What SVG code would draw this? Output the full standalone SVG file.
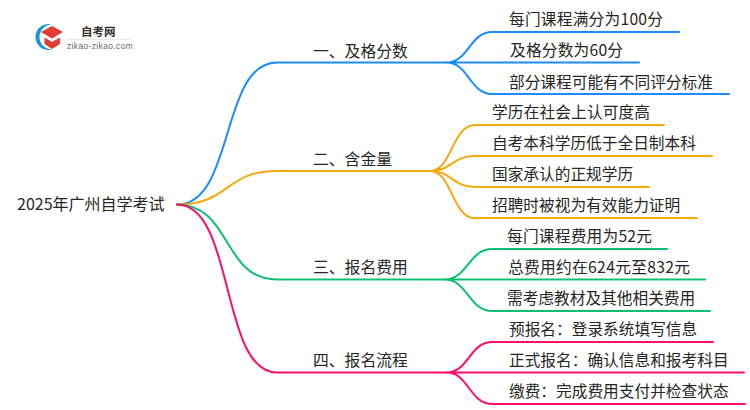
<svg xmlns="http://www.w3.org/2000/svg" width="750" height="410" viewBox="0 0 750 410">
<style>
text{font-family:"Noto Sans CJK SC","Noto Sans",sans-serif;font-size:15.700px;fill:#262626}
.m{font-size:15.800px}
.r{font-size:16px}
.c{fill:none;stroke-width:2;stroke-linecap:round}
.b{stroke:#1a8cff}.o{stroke:#f5a90f}.g{stroke:#0dbf73}.p{stroke:#fa0f6e}
</style>
<rect width="750" height="410" fill="#fff"/>
<g id="logo">
<path d="M52 24.500A13 13 0 1 0 52 49.500A12.500 12.500 0 1 1 52 24.500Z" fill="#1597d8"/>
<path d="M41 32L52 26L63 32L52 38.500Z" fill="#e33b36"/>
<path d="M44.500 37.500L52 42L60 37.500V44L52 49L44.500 44Z" fill="#e33b36"/>
<text x="81" y="35.500" style="font-size:11.500px;font-weight:700;fill:#333">自考网</text>
<rect x="66" y="39" width="65" height="1" fill="#e8e8e8"/>
<text x="67" y="48.500" style="font-family:'Liberation Sans',sans-serif;font-size:8.500px;letter-spacing:.35px;fill:#666">zikao-zikao.com</text>
</g>
<g id="connectors">
<path class="c b" d="M177 204.500C235 204.500 220 62.500 277 62.500H447"/>
<path class="c o" d="M177 204.500C230 204.500 225 171 277 171H430"/>
<path class="c g" d="M177 204.500C232 204.500 222 279.500 277 279.500H445"/>
<path class="c p" d="M177 204.500C235 204.500 220 372.500 277 372.500H447"/>
<path class="c b" d="M447 62.500C468 62.500 470 32 492 32H679M447 62.500H639M447 62.500C468 62.500 470 94 492 94H729"/>
<path class="c o" d="M430 171C452 171 452 125 475 125H664M430 171C452 171 452 156 475 156H712M430 171C452 171 452 187 475 187H649M430 171C452 171 452 218 475 218H697"/>
<path class="c g" d="M445 279.500C467 279.500 469 249 492 249H667M445 279.500H705M445 279.500C467 279.500 469 311 492 311H710"/>
<path class="c p" d="M447 372.500C468 372.500 470 342 492 342H713M447 372.500H744M447 372.500C468 372.500 470 404 492 404H745"/>
</g>
<g id="root"><text class="r" x="17" y="210">2025年广州自学考试</text></g>
<g id="n1"><text class="m" x="313" y="56.500">一、及格分数</text></g>
<g id="n1a"><text x="509" y="25" textLength="154">每门课程满分为100分</text></g>
<g id="n1b"><text x="510" y="56" textLength="113">及格分数为60分</text></g>
<g id="n1c"><text x="509" y="87.500">部分课程可能有不同评分标准</text></g>
<g id="n2"><text class="m" x="313" y="164.500">二、含金量</text></g>
<g id="n2a"><text x="492" y="118" textLength="158">学历在社会上认可度高</text></g>
<g id="n2b"><text x="492" y="149">自考本科学历低于全日制本科</text></g>
<g id="n2c"><text x="492" y="180">国家承认的正规学历</text></g>
<g id="n2d"><text x="492" y="211">招聘时被视为有效能力证明</text></g>
<g id="n3"><text class="m" x="313" y="273">三、报名费用</text></g>
<g id="n3a"><text x="507" y="242" textLength="145">每门课程费用为52元</text></g>
<g id="n3b"><text x="508" y="273" textLength="182">总费用约在624元至832元</text></g>
<g id="n3c"><text x="507" y="304">需考虑教材及其他相关费用</text></g>
<g id="n4"><text class="m" x="313" y="366">四、报名流程</text></g>
<g id="n4a"><text x="509" y="335">预报名：登录系统填写信息</text></g>
<g id="n4b"><text x="509" y="366">正式报名：确认信息和报考科目</text></g>
<g id="n4c"><text x="509" y="397">缴费：完成费用支付并检查状态</text></g>
</svg>
